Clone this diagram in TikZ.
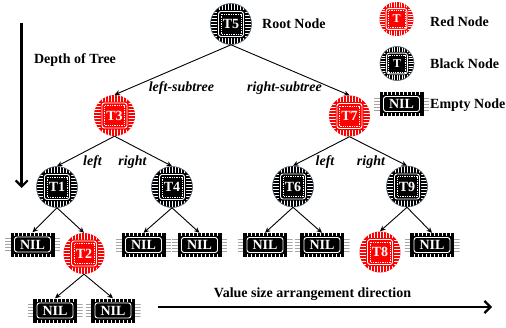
\documentclass[tikz,border=0pt]{standalone}
\usepackage{fontspec}
\setmainfont{Liberation Serif}
\usetikzlibrary{arrows.meta}
\definecolor{slate}{RGB}{85,105,125}
\definecolor{pingrey}{RGB}{165,165,165}
\definecolor{chipred}{RGB}{255,0,0}
\newcommand\chipfont{\fontsize{14}{14}\selectfont\bfseries}
\newcommand\legfont{\fontsize{12}{12}\selectfont\bfseries}
\newcommand\labfont{\fontsize{14}{16}\selectfont\bfseries}
\newcommand\chippic[2]{%
    \foreach \k in {-12,-9,...,12}{
      \draw[white, line width=0.8pt] (path picture bounding box.center) ++({#2*\k},{-22*#2}) -- ++(0,{44*#2});
      \draw[white, line width=0.8pt] (path picture bounding box.center) ++({-22*#2},{#2*\k}) -- ++({44*#2},0);
    }
    \fill[#1, rounded corners=1.5] (path picture bounding box.center) ++({-14*#2},{-14*#2}) rectangle ++({28*#2},{28*#2});
    \draw[white, line width=0.9pt, rounded corners=2.5] (path picture bounding box.center) ++({-12.5*#2},{-12.5*#2}) rectangle ++({25*#2},{25*#2});
    \draw[white, line width=0.5pt, dash pattern=on 1.3pt off 1pt] (path picture bounding box.center) ++({-10*#2},{-10*#2}) rectangle ++({20*#2},{20*#2});
}
\newcommand\nilpic{%
    \foreach \k in {-6,-3,0,3,6}{
      \draw[pingrey, line width=0.7pt] (path picture bounding box.center) ++(-27.5,\k) -- ++(6,0);
      \draw[pingrey, line width=0.7pt] (path picture bounding box.center) ++(21.5,\k) -- ++(6,0);
    }
    \fill[black] (path picture bounding box.center) ++(-22,-12) rectangle ++(44,24);
    \foreach \k in {-18,-14,...,18}{
      \draw[white, line width=0.7pt] (path picture bounding box.center) ++(\k,-12) -- ++(0,3);
      \draw[white, line width=0.7pt] (path picture bounding box.center) ++(\k,12) -- ++(0,-3);
    }
    \draw[white, line width=0.9pt, rounded corners=2.5] (path picture bounding box.center) ++(-18,-7.5) rectangle ++(36,15);
}
\tikzset{
  rnode/.style={circle, minimum size=41pt, inner sep=0pt, fill=chipred, text=white,
    font=\chipfont, path picture={\chippic{chipred}{1}}},
  bnode/.style={circle, minimum size=41pt, inner sep=0pt, fill=black, draw=slate,
    line width=0.6pt, text=white, font=\chipfont, path picture={\chippic{black}{1}}},
  rleg/.style={circle, minimum size=34pt, inner sep=0pt, fill=chipred, text=white,
    font=\legfont, path picture={\chippic{chipred}{0.83}}},
  bleg/.style={circle, minimum size=34pt, inner sep=0pt, fill=black, draw=slate,
    line width=0.6pt, text=white, font=\legfont, path picture={\chippic{black}{0.83}}},
  nilnode/.style={rectangle, minimum width=55pt, minimum height=24pt, inner sep=0pt,
    text=white, font=\chipfont, path picture={\nilpic}},
  conn/.style={-{Stealth[length=5.5pt,width=5pt]}, line width=0.9pt},
  bigarrow/.style={line width=2.8pt, -{Straight Barb[length=6pt,width=12pt,line width=2.2pt]}},
  lab/.style={font=\labfont, inner sep=0pt},
  elab/.style={font=\labfont\itshape, inner sep=0pt},
}
\begin{document}
\begin{tikzpicture}[x=1pt,y=-1pt]
\useasboundingbox (0,0) rectangle (506,327);
% tree nodes
\node[bnode] (T5) at (231,24) {T5};
\node[rnode] (T3) at (114.5,115.5) {T3};
\node[rnode] (T7) at (349.5,116) {T7};
\node[bnode] (T1) at (57,187) {T1};
\node[bnode] (T4) at (172,187) {T4};
\node[bnode] (T6) at (293,186.5) {T6};
\node[bnode] (T9) at (407,186.5) {T9};
\node[nilnode] (N1) at (32.5,244.5) {NIL};
\node[rnode] (T2) at (84,253.5) {T2};
\node[nilnode] (N4a) at (143.5,245) {NIL};
\node[nilnode] (N4b) at (199.5,245) {NIL};
\node[nilnode] (N6a) at (265,245) {NIL};
\node[nilnode] (N6b) at (322,245) {NIL};
\node[rnode] (T8) at (380,252) {T8};
\node[nilnode] (N9) at (432,245) {NIL};
\node[nilnode] (N2a) at (55,310.5) {NIL};
\node[nilnode] (N2b) at (113,310.5) {NIL};
% connectors
\draw[conn] (T5.south) -- (T3.north);
\draw[conn] (T5.south) -- (T7.north);
\draw[conn] (T3.south) -- (T1.north);
\draw[conn] (T3.south) -- (T4.north);
\draw[conn] (T7.south) -- (T6.north);
\draw[conn] (T7.south) -- (T9.north);
\draw[conn] (T1.south) -- (N1.north);
\draw[conn] (T1.south) -- (T2.north);
\draw[conn] (T4.south) -- (N4a.north);
\draw[conn] (T4.south) -- (N4b.north);
\draw[conn] (T6.south) -- (N6a.north);
\draw[conn] (T6.south) -- (N6b.north);
\draw[conn] (T9.south) -- (T8.north);
\draw[conn] (T9.south) -- (N9.north);
\draw[conn] (T2.south) -- (N2a.north);
\draw[conn] (T2.south) -- (N2b.north);
% edge labels
\node[elab] (ls) at (181.5,88) {left-subtree};
\node[elab] (rs) at (284.5,88) {right-subtree};
\node[elab] (l3) at (92.5,162) {left};
\node[elab] (r3) at (132.5,162) {right};
\node[elab] (l7) at (325,162) {left};
\node[elab] (r7) at (371,162) {right};
% legend
\node[lab, anchor=west] (root) at (262,24) {Root Node};
\node[rleg] (LR) at (396.5,19) {T};
\node[bleg] (LB) at (397,63.5) {T};
\node[nilnode] (LN) at (401.5,104) {NIL};
\node[lab, anchor=west] (tR) at (430,22) {Red Node};
\node[lab, anchor=west] (tB) at (430,63.5) {Black Node};
\node[lab, anchor=west] (tN) at (430,105) {Empty Node};
% axes
\coordinate (d0) at (21.7,23);
\coordinate (d1) at (21.7,188);
\draw[bigarrow] (d0) -- (d1);
\node[lab] (depth) at (75,60) {Depth of Tree};
\coordinate (h0) at (158,307);
\coordinate (h1) at (492,307);
\draw[bigarrow] (h0) -- (h1);
\node[lab] (vsad) at (312.5,294) {Value size arrangement direction};
\end{tikzpicture}
\end{document}
